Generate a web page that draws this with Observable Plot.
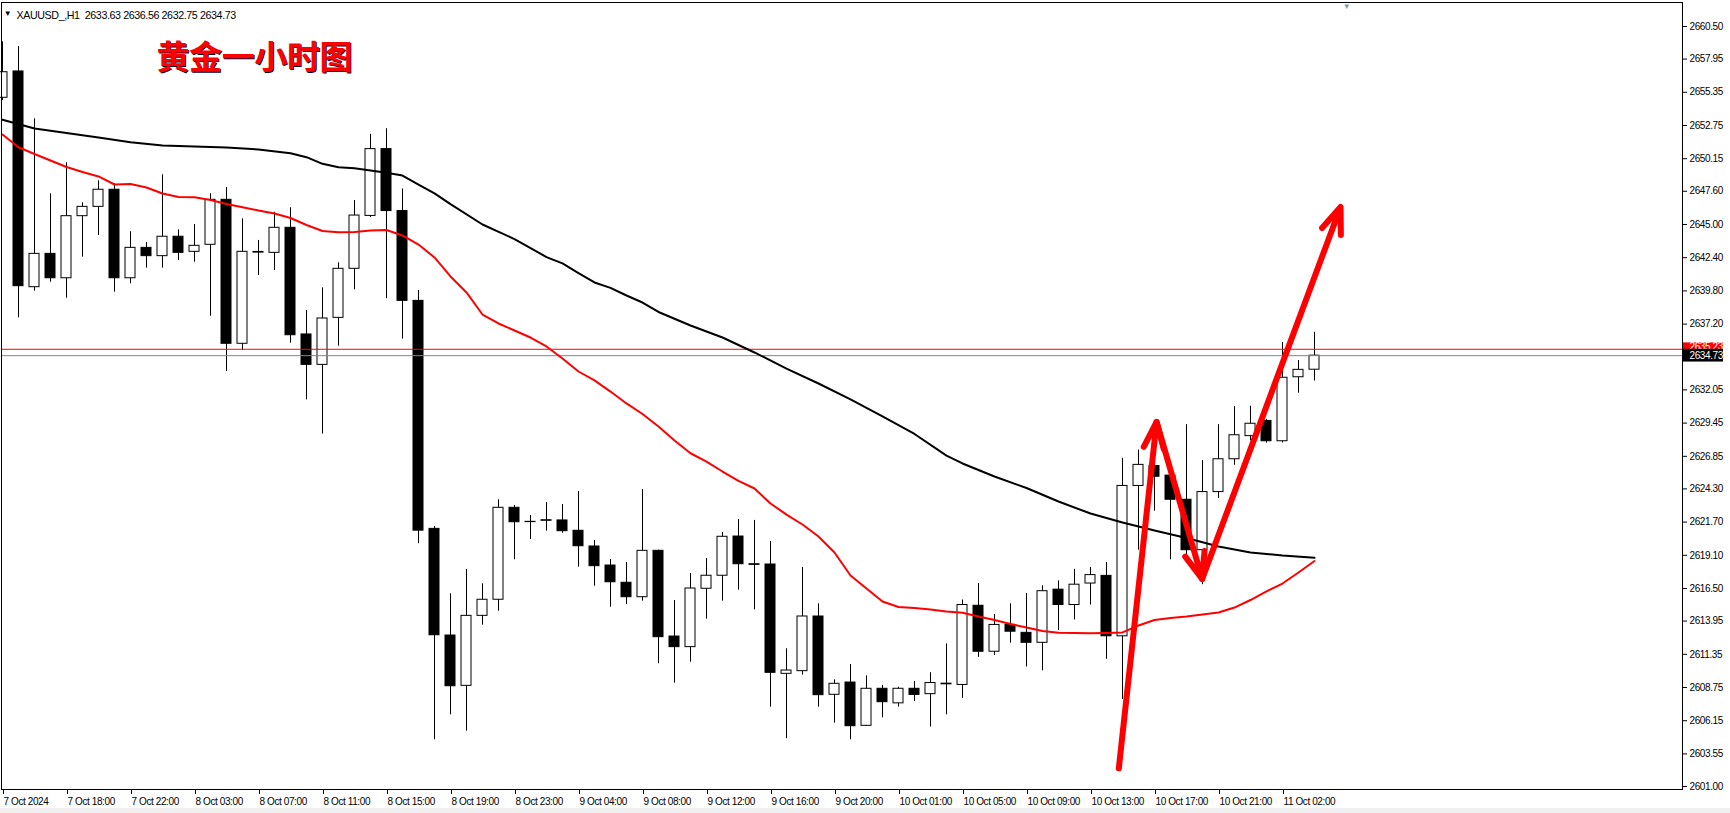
<!DOCTYPE html>
<html><head><meta charset="utf-8">
<script src="https://cdn.jsdelivr.net/npm/d3@7"></script>
<script src="https://cdn.jsdelivr.net/npm/@observablehq/plot@0.6"></script>
<style>
html,body{margin:0;padding:0;background:#fff;}
#wrap{position:relative;width:1730px;height:813px;overflow:hidden;background:#fff;}
#wrap svg{position:absolute;left:0;top:0;}
#strip{position:absolute;left:0;top:808px;width:1730px;height:5px;background:#f0f0f0;}
</style></head><body><div id="wrap"><div id="strip"></div></div>
<script>
const symbol = "XAUUSD_,H1";
const title = "黄金一小时图";

const opens = [
2654.92, 2656.98, 2640.09, 2642.70, 2640.79, 2645.65, 2646.38, 2647.72, 2640.79, 2643.17,
2642.52, 2644.04, 2642.86, 2643.41, 2646.93, 2635.66, 2642.85, 2642.78, 2644.74, 2636.39,
2634.01, 2637.69, 2641.53, 2645.67, 2650.90, 2646.05, 2639.02, 2621.17, 2612.82, 2608.88,
2614.36, 2615.62, 2622.82, 2621.72, 2621.80, 2621.83, 2621.02, 2619.79, 2618.30, 2616.95,
2615.82, 2619.45, 2612.74, 2611.91, 2616.48, 2617.50, 2620.57, 2618.40, 2618.38, 2609.82,
2610.03, 2614.31, 2608.18, 2609.14, 2605.75, 2608.65, 2607.51, 2608.65, 2608.23, 2609.00,
2608.95, 2615.15, 2611.55, 2613.65, 2613.03, 2612.25, 2616.41, 2615.21, 2616.89, 2617.49,
2612.76, 2624.53, 2626.09, 2625.34, 2623.45, 2619.50, 2624.05, 2626.62, 2628.43, 2629.62,
2628.03, 2633.04, 2633.63
];
const highs = [
2659.30, 2658.93, 2653.27, 2647.40, 2649.83, 2646.70, 2648.42, 2648.19, 2644.43, 2643.59,
2648.89, 2644.58, 2645.00, 2647.40, 2647.90, 2645.44, 2643.75, 2645.96, 2646.31, 2638.27,
2640.04, 2642.00, 2646.88, 2652.06, 2652.50, 2647.78, 2639.84, 2621.35, 2616.09, 2617.99,
2616.87, 2623.45, 2623.00, 2622.22, 2623.23, 2623.08, 2624.10, 2620.26, 2618.77, 2618.54,
2624.25, 2619.50, 2615.56, 2617.68, 2618.85, 2620.89, 2621.90, 2621.83, 2620.18, 2611.78,
2618.15, 2615.30, 2609.35, 2610.55, 2609.66, 2608.91, 2608.77, 2609.22, 2609.91, 2612.16,
2615.60, 2616.89, 2614.47, 2615.30, 2616.11, 2616.71, 2617.10, 2618.00, 2618.15, 2618.54,
2626.69, 2627.34, 2626.68, 2626.00, 2629.33, 2626.51, 2629.33, 2630.74, 2630.77, 2629.74,
2635.76, 2634.35, 2636.56
];
const lows = [
2654.71, 2637.69, 2639.78, 2640.48, 2639.23, 2642.44, 2644.14, 2639.70, 2640.36, 2641.58,
2641.58, 2642.18, 2642.05, 2637.82, 2633.49, 2635.13, 2641.00, 2641.40, 2635.71, 2631.27,
2628.59, 2635.47, 2639.89, 2645.54, 2639.19, 2636.03, 2620.01, 2604.66, 2606.61, 2605.33,
2613.63, 2614.72, 2618.75, 2620.34, 2620.99, 2620.83, 2618.17, 2616.68, 2615.04, 2615.25,
2615.51, 2610.61, 2609.09, 2610.73, 2614.10, 2615.51, 2616.37, 2614.83, 2607.21, 2604.74,
2609.72, 2607.21, 2605.96, 2604.66, 2605.70, 2606.38, 2607.22, 2607.66, 2605.66, 2606.61,
2607.90, 2611.11, 2611.26, 2612.22, 2610.36, 2610.06, 2613.21, 2614.04, 2615.21, 2610.96,
2607.81, 2619.50, 2622.55, 2618.75, 2618.90, 2616.80, 2623.54, 2626.15, 2628.07, 2627.88,
2627.90, 2631.79, 2632.75
];
const closes = [
2656.92, 2640.17, 2642.70, 2640.79, 2645.65, 2646.38, 2647.72, 2640.79, 2643.17, 2642.52,
2644.04, 2642.78, 2643.33, 2646.93, 2635.66, 2642.86, 2642.80, 2644.74, 2636.33, 2634.01,
2637.64, 2641.53, 2645.70, 2650.90, 2646.05, 2639.02, 2621.03, 2612.84, 2608.85, 2614.36,
2615.62, 2622.82, 2621.69, 2621.70, 2621.85, 2620.99, 2619.81, 2618.25, 2616.99, 2615.82,
2619.45, 2612.69, 2611.91, 2616.50, 2617.50, 2620.55, 2618.40, 2618.35, 2609.90, 2610.08,
2614.31, 2608.15, 2609.04, 2605.72, 2608.65, 2607.60, 2608.65, 2608.17, 2609.10, 2609.05,
2615.21, 2611.55, 2613.65, 2613.12, 2612.25, 2616.29, 2615.21, 2616.80, 2617.55, 2612.76,
2624.53, 2626.18, 2625.25, 2623.45, 2619.50, 2624.05, 2626.62, 2628.50, 2629.40, 2628.03,
2633.00, 2633.62, 2634.73
];

// red moving average, one value per bar
const redMA = [
2652.04, 2651.05, 2650.52, 2650.01, 2649.50, 2649.11, 2648.76, 2648.13, 2648.17, 2647.90,
2647.43, 2647.15, 2647.14, 2646.92, 2646.60, 2646.35, 2646.10, 2645.86, 2645.51, 2644.96,
2644.49, 2644.40, 2644.41, 2644.53, 2644.57, 2644.14, 2643.43, 2642.42, 2640.93, 2639.68,
2637.95, 2637.25, 2636.70, 2636.15, 2635.45, 2634.51, 2633.49, 2632.79, 2631.92, 2630.99,
2630.16, 2629.18, 2628.09, 2627.09, 2626.44, 2625.66, 2624.92, 2624.33, 2623.16, 2622.29,
2621.51, 2620.57, 2619.32, 2617.52, 2616.50, 2615.48, 2615.05, 2614.97, 2614.86, 2614.70,
2614.60, 2614.31, 2614.03, 2613.72, 2613.45, 2613.17, 2613.03, 2613.02, 2612.99, 2613.02,
2613.06, 2613.60, 2614.03, 2614.19, 2614.31, 2614.47, 2614.62, 2615.01, 2615.60, 2616.27,
2616.89, 2617.75, 2618.65
];
// black moving average, read at these bars
const blackMAIdx = [0,2,4,6,8,10,12,14,16,18,19,20,21,22,23,24,25,26,27,28,30,32,34,35,36,37,38,39,40,41,43,45,47,49,51,53,55,57,59,60,62,64,66,68,70,72,74,76,78,80,82];
const blackMA = [2653.20,2652.51,2652.16,2651.81,2651.44,2651.18,2651.11,2651.03,2650.87,2650.58,2650.27,2649.75,2649.48,2649.41,2649.23,2649.05,2648.83,2648.13,2647.43,2646.59,2645.00,2643.86,2642.45,2641.95,2641.20,2640.46,2640.04,2639.44,2638.89,2638.15,2637.09,2636.15,2634.98,2633.72,2632.55,2631.30,2629.97,2628.60,2626.91,2626.29,2625.27,2624.37,2623.31,2622.37,2621.67,2621.04,2620.45,2619.79,2619.32,2619.08,2618.90];

const bidPrice = 2634.73;
const askPrice = 2635.23;

const yTicks = [2660.50, 2657.95, 2655.35, 2652.75, 2650.15, 2647.60, 2645.00, 2642.40, 2639.80, 2637.20, 2634.60, 2632.05, 2629.45, 2626.85, 2624.30, 2621.70, 2619.10, 2616.50, 2613.95, 2611.35, 2608.75, 2606.15, 2603.55, 2601.00];
const xTickIdx = [0,4,8,12,16,20,24,28,32,36,40,44,48,52,56,60,64,68,72,76,80];
const xTickLabels = ["7 Oct 2024","7 Oct 18:00","7 Oct 22:00","8 Oct 03:00","8 Oct 07:00","8 Oct 11:00","8 Oct 15:00","8 Oct 19:00","8 Oct 23:00","9 Oct 04:00","9 Oct 08:00","9 Oct 12:00","9 Oct 16:00","9 Oct 20:00","10 Oct 01:00","10 Oct 05:00","10 Oct 09:00","10 Oct 13:00","10 Oct 17:00","10 Oct 21:00","11 Oct 02:00"];

// hand-drawn arrow path (bar index, price)
const arrowX = [69.77, 72.13, 74.98, 83.63];
const arrowY = [2602.42, 2629.54, 2617.25, 2646.37];
const shiftIdx = 84;

const candles = opens.map((o, i) => ({i, open: o, high: highs[i], low: lows[i], close: closes[i]}));
const up = candles.filter(d => d.close >= d.open);
const down = candles.filter(d => d.close < d.open);
const redLine = redMA.map((v, i) => ({i, v}));
const blackLine = blackMA.map((v, k) => ({i: blackMAIdx[k], v}));
const arrows = arrowX.slice(1).map((x, k) => ({x1: arrowX[k], y1: arrowY[k], x2: x, y2: arrowY[k + 1]}));
const last = candles[candles.length - 1];
const header = `${symbol}  ${last.open.toFixed(2)} ${last.high.toFixed(2)} ${last.low.toFixed(2)} ${last.close.toFixed(2)}`;

const xDom = [-0.0625, 105];
const hw = 0.3125;

const plot = Plot.plot({
  width: 1730, height: 813,
  marginLeft: 1, marginRight: 48, marginTop: 2, marginBottom: 24,
  x: {type: "linear", domain: xDom},
  y: {domain: [2600.765, 2662.379]},
  style: {fontFamily: "Liberation Sans, Arial, sans-serif", fontSize: "10px", letterSpacing: "-0.4px", color: "black", background: "transparent", overflow: "visible"},
  marks: [
    Plot.ruleX(candles, {x: "i", y1: "low", y2: "high", stroke: "black", strokeWidth: 1}),
    Plot.rect(up, {x1: d => d.i - hw, x2: d => d.i + hw, y1: "open", y2: "close", fill: "white", stroke: "black", strokeWidth: 1}),
    Plot.rect(down, {x1: d => d.i - hw, x2: d => d.i + hw, y1: "open", y2: "close", fill: "black", stroke: "black", strokeWidth: 1}),
    Plot.ruleY([askPrice], {y: d => d, stroke: "#ff0000", strokeWidth: 1}),
    Plot.ruleY([bidPrice], {y: d => d, stroke: "#778899", strokeWidth: 1}),
    Plot.line(blackLine, {x: "i", y: "v", stroke: "black", strokeWidth: 2}),
    Plot.line(redLine, {x: "i", y: "v", stroke: "#ff0000", strokeWidth: 2}),
    Plot.arrow(arrows, {x1: "x1", y1: "y1", x2: "x2", y2: "y2", stroke: "#ff0000", strokeWidth: 6, headLength: 7, headAngle: 42, strokeLinecap: "round", strokeLinejoin: "round"}),
    Plot.frame({stroke: "black", strokeWidth: 1}),
    Plot.axisY(yTicks, {anchor: "right", tickSize: 4, tickPadding: 3, tickFormat: d => d.toFixed(2), label: null, fill: "black"}),
    Plot.axisX(xTickIdx, {anchor: "bottom", tickSize: 5, tickPadding: 3, textAnchor: "start", dx: 1, tickFormat: d => xTickLabels[xTickIdx.indexOf(d)], label: null, fill: "black"}),
    Plot.rect([askPrice], {x1: xDom[1] + 1 / 16, x2: xDom[1] + 41 / 16, y1: d => d + 0.5, y2: d => d - 0.5, fill: "#ff0000"}),
    Plot.text([askPrice], {x: xDom[1] + 7 / 16, y: d => d, dy: -2, text: d => d.toFixed(2), fill: "white", textAnchor: "start"}),
    Plot.rect([bidPrice], {x1: xDom[1] + 1 / 16, x2: xDom[1] + 41 / 16, y1: d => d + 0.5, y2: d => d - 0.5, fill: "black"}),
    Plot.text([bidPrice], {x: xDom[1] + 7 / 16, y: d => d, text: d => d.toFixed(2), fill: "white", textAnchor: "start"}),
    Plot.text([header], {frameAnchor: "top-left", dx: 15, dy: 9, text: d => d, fill: "black", textAnchor: "start", fontSize: 10.7, style: "letter-spacing:-0.15px"}),
    Plot.text(["▼"], {frameAnchor: "top-left", dx: 6, dy: 8, text: d => d, fill: "black", fontSize: 8, textAnchor: "middle"}),
    Plot.text([shiftIdx], {x: d => d, frameAnchor: "top", dy: 1, text: () => "▼", fill: "#8797aa", fontSize: 8}),
    Plot.text([title], {frameAnchor: "top-left", dx: 156, dy: 44, text: d => d, fill: "#000033", fontSize: 33, fontWeight: "bold", fontFamily: "Noto Sans CJK SC", lineAnchor: "top", textAnchor: "start"}),
    Plot.text([title], {frameAnchor: "top-left", dx: 155, dy: 43, text: d => d, fill: "#ff0000", fontSize: 33, fontWeight: "bold", fontFamily: "Noto Sans CJK SC", lineAnchor: "top", textAnchor: "start"})
  ]
});
document.getElementById("wrap").appendChild(plot);
</script>
</body></html>
